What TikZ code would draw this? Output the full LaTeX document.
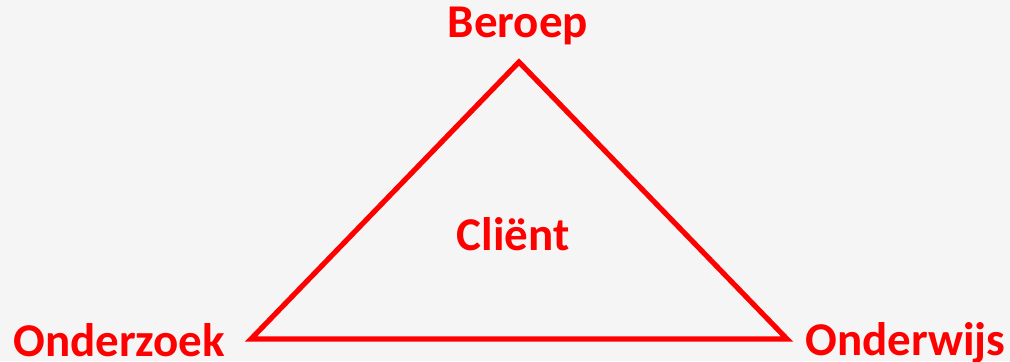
\documentclass[tikz,border=0pt]{standalone}
\usepackage{fontspec}
\setmainfont{Carlito}
\definecolor{bg}{HTML}{F5F5F5}
\definecolor{lbl}{HTML}{FF0000}
\tikzset{
  lab/.style={text=lbl, font=\fontsize{35.25pt}{40pt}\selectfont\bfseries, inner sep=0pt},
  tri/.style={draw=lbl, line width=3.9pt, line join=miter}
}
\begin{document}
\begin{tikzpicture}[x=0.75pt, y=-0.75pt]
\fill[bg] (0,0) rectangle (1010,361);
\useasboundingbox (0,0) rectangle (1010,361);
\coordinate (top) at (519,62);
\coordinate (bl) at (251,339);
\coordinate (br) at (787,339);
\draw[tri] (top) -- (br) -- (bl) -- cycle;
\node[lab, anchor=base] (beroep) at (518,37) {Beroep};
\node[lab, anchor=base] (client) at (513,250) {Cliënt};
\node[lab, anchor=base west] (onderzoek) at (13,356) {Onderzoek};
\node[lab, anchor=base west] (onderwijs) at (805,355) {Onderwijs};
\end{tikzpicture}
\end{document}
